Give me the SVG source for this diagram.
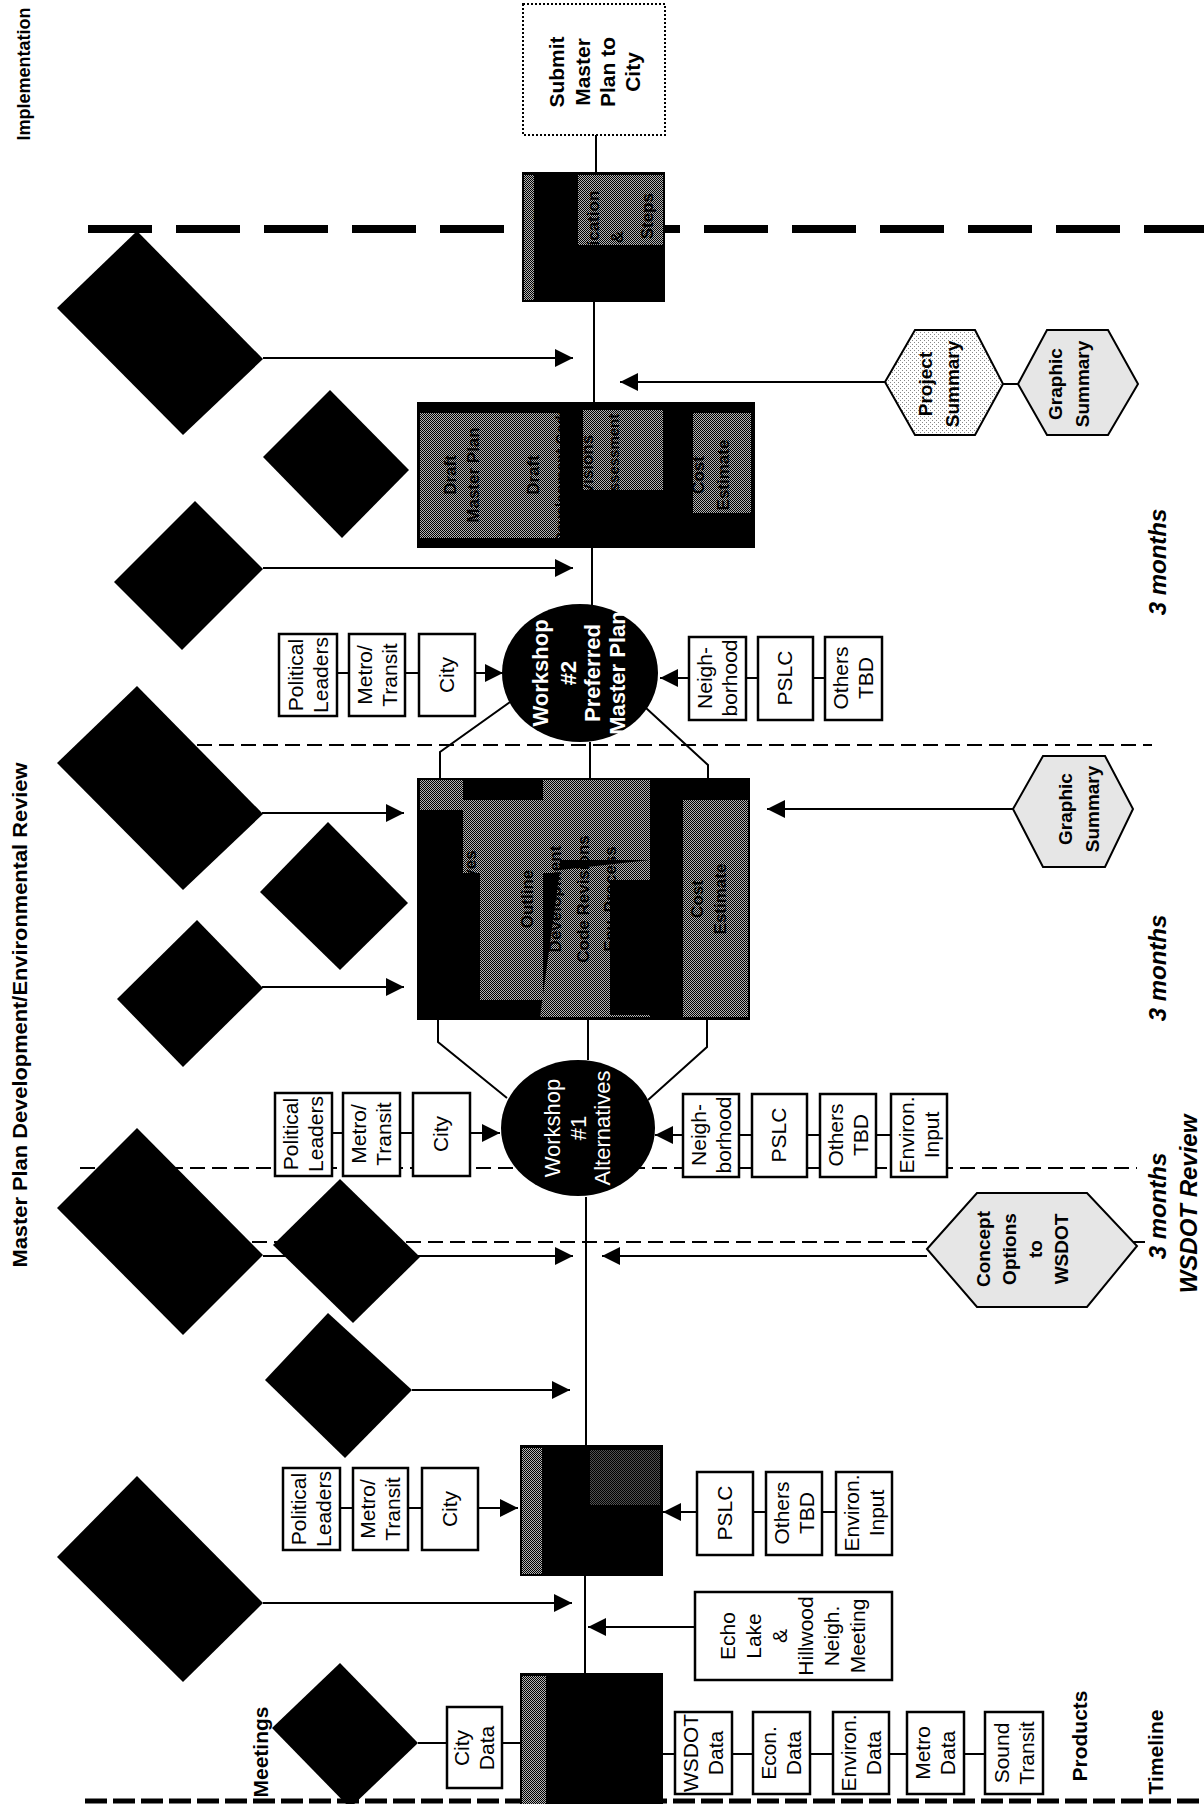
<svg xmlns="http://www.w3.org/2000/svg" width="1204" height="1804" viewBox="0 0 1204 1804">
<defs>
<pattern id="dith" width="2" height="2" patternUnits="userSpaceOnUse"><rect width="2" height="2" fill="#b4b4b4"/><rect width="1" height="1" fill="#000"/><rect x="1" y="1" width="1" height="1" fill="#000"/></pattern>
<pattern id="stip" width="4" height="4" patternUnits="userSpaceOnUse"><rect width="4" height="4" fill="#fff"/><rect width="1" height="1" fill="#888"/><rect x="2" y="2" width="1" height="1" fill="#888"/></pattern>
<marker id="ah" viewBox="0 0 18 18" refX="18" refY="9" markerWidth="18" markerHeight="18" markerUnits="userSpaceOnUse" orient="auto"><path d="M0,0 L18,9 L0,18 z" fill="#000"/></marker>
</defs>
<style>
.t{font-family:"Liberation Sans",Arial,sans-serif;font-size:21px;text-anchor:middle;fill:#000}
.b{font-weight:bold}
.h{font-family:"Liberation Sans",Arial,sans-serif;font-size:19px;font-weight:bold;text-anchor:middle;fill:#000}
.w{font-family:"Liberation Sans",Arial,sans-serif;font-size:22px;text-anchor:middle;fill:#fff}
.m{font-family:"Liberation Sans",Arial,sans-serif;font-size:24px;font-weight:bold;font-style:italic;text-anchor:middle;fill:#000}
.k{font-family:"Liberation Sans",Arial,sans-serif;font-size:17px;font-weight:bold;text-anchor:middle;fill:#000}
.ttl{font-family:"Liberation Sans",Arial,sans-serif;font-weight:bold;text-anchor:middle;fill:#000}
.box{fill:#fff;stroke:#000;stroke-width:2.5}
.ln{stroke:#000;stroke-width:2;fill:none}
.ar{stroke:#000;stroke-width:2;fill:none;marker-end:url(#ah)}
.dsh{stroke:#000;stroke-width:2;stroke-dasharray:15 7;fill:none}
.dia{fill:#000}
.hex{stroke:#000;stroke-width:2}
</style>
<rect width="1204" height="1804" fill="#fff"/>

<g id="phase-lines">
<line x1="88" y1="229" x2="1204" y2="229" stroke="#000" stroke-width="8" stroke-dasharray="64 24"/>
<line class="dsh" x1="197" y1="745" x2="1152" y2="745"/>
<line class="dsh" x1="80" y1="1168" x2="1137" y2="1168"/>
<line class="dsh" x1="230" y1="1242" x2="1145" y2="1242"/>
<line x1="85" y1="1801" x2="1204" y2="1801" stroke="#000" stroke-width="5" stroke-dasharray="22 6"/>
</g>

<g id="connectors">
<line class="ln" x1="596" y1="135" x2="596" y2="172"/>
<line class="ln" x1="594" y1="302" x2="594" y2="402"/>
<line class="ln" x1="592" y1="548" x2="592" y2="605"/>
<line class="ln" x1="590" y1="742" x2="590" y2="778"/>
<polyline class="ln" points="510,702 440,752 440,778"/>
<polyline class="ln" points="646,708 708,765 708,778"/>
<line class="ln" x1="588" y1="1020" x2="588" y2="1060"/>
<polyline class="ln" points="438,1020 438,1042 507,1098"/>
<polyline class="ln" points="707,1020 707,1047 648,1100"/>
<line class="ln" x1="586" y1="1197" x2="586" y2="1445"/>
<line class="ln" x1="585" y1="1576" x2="585" y2="1673"/>
<line class="ar" x1="263" y1="358" x2="573" y2="358"/>
<line class="ar" x1="263" y1="568" x2="573" y2="568"/>
<line class="ar" x1="262" y1="813" x2="404" y2="813"/>
<line class="ar" x1="262" y1="987" x2="404" y2="987"/>
<line class="ar" x1="263" y1="1256" x2="573" y2="1256"/>
<line class="ar" x1="412" y1="1390" x2="570" y2="1390"/>
<line class="ar" x1="263" y1="1603" x2="572" y2="1603"/>
<line class="ar" x1="885" y1="382" x2="620" y2="382"/>
<line class="ln" x1="1003" y1="384" x2="1018" y2="384"/>
<line class="ar" x1="1013" y1="809" x2="767" y2="809"/>
<line class="ar" x1="927" y1="1256" x2="602" y2="1256"/>
<line class="ar" x1="695" y1="1627" x2="588" y2="1627"/>
<line class="ln" x1="337" y1="673" x2="349" y2="673"/>
<line class="ln" x1="405" y1="673" x2="419" y2="673"/>
<line class="ar" x1="475" y1="673" x2="503" y2="673"/>
<line class="ln" x1="746" y1="678" x2="758" y2="678"/>
<line class="ln" x1="813" y1="678" x2="825" y2="678"/>
<line class="ar" x1="689" y1="678" x2="660" y2="678"/>
<line class="ln" x1="332" y1="1133" x2="343" y2="1133"/>
<line class="ln" x1="400" y1="1133" x2="413" y2="1133"/>
<line class="ar" x1="470" y1="1133" x2="500" y2="1133"/>
<line class="ln" x1="739" y1="1135" x2="752" y2="1135"/>
<line class="ln" x1="807" y1="1135" x2="820" y2="1135"/>
<line class="ln" x1="876" y1="1135" x2="891" y2="1135"/>
<line class="ar" x1="683" y1="1135" x2="655" y2="1135"/>
<line class="ln" x1="340" y1="1508" x2="353" y2="1508"/>
<line class="ln" x1="408" y1="1508" x2="422" y2="1508"/>
<line class="ar" x1="478" y1="1508" x2="518" y2="1508"/>
<line class="ln" x1="753" y1="1512" x2="766" y2="1512"/>
<line class="ln" x1="822" y1="1512" x2="836" y2="1512"/>
<line class="ar" x1="697" y1="1512" x2="663" y2="1512"/>
<line class="ln" x1="418" y1="1743" x2="447" y2="1743"/>
<line class="ln" x1="502" y1="1743" x2="520" y2="1743"/>
<line class="ln" x1="663" y1="1754" x2="675" y2="1754"/>
<line class="ln" x1="732" y1="1754" x2="753" y2="1754"/>
<line class="ln" x1="810" y1="1754" x2="833" y2="1754"/>
<line class="ln" x1="889" y1="1754" x2="907" y2="1754"/>
<line class="ln" x1="964" y1="1754" x2="985" y2="1754"/>
</g>

<g id="diamonds">
<polygon id="meet-a" class="dia" points="137,231 263,359 183,435 57,308"/>
<polygon id="meet-b" class="dia" points="330,390 409,470 342,538 263,457"/>
<polygon id="meet-c" class="dia" points="195,501 263,569 182,650 114,582"/>
<polygon id="meet-d" class="dia" points="137,686 263,814 183,890 57,763"/>
<polygon id="meet-e" class="dia" points="328,822 408,903 340,970 260,892"/>
<polygon id="meet-f" class="dia" points="197,920 263,988 183,1067 117,999"/>
<polygon id="meet-g" class="dia" points="137,1128 263,1255 183,1335 57,1208"/>
<polygon id="meet-h" class="dia" points="340,1179 420,1257 353,1323 273,1245"/>
<polygon id="meet-i" class="dia" points="328,1313 412,1390 345,1458 265,1380"/>
<polygon id="meet-j" class="dia" points="137,1476 263,1603 183,1682 57,1557"/>
<polygon id="meet-k" class="dia" points="340,1663 418,1743 350,1808 272,1728"/>
</g>

<g id="submit">
<rect x="523" y="4" width="142" height="131" fill="#fff" stroke="#000" stroke-width="2" stroke-dasharray="2 2"/>
<text class="t b" transform="translate(564,72) rotate(-90)">Submit</text>
<text class="t b" transform="translate(590,72) rotate(-90)">Master</text>
<text class="t b" transform="translate(615,72) rotate(-90)">Plan to</text>
<text class="t b" transform="translate(640,72) rotate(-90)">City</text>
</g>

<g id="task-final">
<rect x="522" y="172" width="143" height="130" fill="#000"/>
<rect x="578" y="175" width="85" height="70" fill="url(#dith)"/>
<rect x="524" y="175" width="10" height="125" fill="url(#dith)"/>
<text class="k" transform="translate(546,237) rotate(-90)">Prepare Final</text>
<text class="k" transform="translate(576,237) rotate(-90)">Master Plan</text>
<text class="k" transform="translate(599,237) rotate(-90)">Application</text>
<text class="k" transform="translate(623,237) rotate(-90)">&amp;</text>
<text class="k" transform="translate(653,237) rotate(-90)">Next Steps</text>
</g>

<g id="task-draft">
<rect x="417" y="402" width="338" height="146" fill="#000"/>
<rect x="420" y="413" width="140" height="125" fill="url(#dith)"/>
<rect x="583" y="410" width="80" height="80" fill="url(#dith)"/>
<rect x="693" y="413" width="58" height="100" fill="url(#dith)"/>
<text class="k" transform="translate(456,475) rotate(-90)">Draft</text>
<text class="k" transform="translate(479,475) rotate(-90)">Master Plan</text>
<text class="k" transform="translate(539,475) rotate(-90)">Draft</text>
<text class="k" style="font-size:15px" transform="translate(566,475) rotate(-90)">Development Code</text>
<text class="k" transform="translate(593,475) rotate(-90)">Revisions</text>
<text class="k" style="font-size:15px" transform="translate(619,475) rotate(-90)">Env. Assessment</text>
<text class="k" transform="translate(676,475) rotate(-90)">Finalize</text>
<text class="k" transform="translate(704,475) rotate(-90)">Cost</text>
<text class="k" transform="translate(729,475) rotate(-90)">Estimate</text>
</g>

<g id="task-mid">
<rect x="417" y="778" width="333" height="242" fill="#000"/>
<rect x="420" y="780" width="43" height="30" fill="url(#dith)"/>
<rect x="463" y="800" width="97" height="73" fill="url(#dith)"/>
<rect x="480" y="873" width="63" height="127" fill="url(#dith)"/>
<rect x="543" y="780" width="107" height="80" fill="url(#dith)"/>
<polygon points="560,870 650,860 650,1017 540,1017" fill="url(#dith)"/>
<rect x="683" y="800" width="65" height="217" fill="url(#dith)"/>
<rect x="610" y="880" width="55" height="135" fill="#000"/>
<text class="k" transform="translate(449,899) rotate(-90)">Refine</text>
<text class="k" transform="translate(476,899) rotate(-90)">Alternatives</text>
<text class="k" transform="translate(533,899) rotate(-90)">Outline</text>
<text class="k" transform="translate(561,899) rotate(-90)">Development</text>
<text class="k" transform="translate(589,899) rotate(-90)">Code Revisions</text>
<text class="k" transform="translate(616,899) rotate(-90)">Env. Process</text>
<text class="k" transform="translate(676,899) rotate(-90)">Refine</text>
<text class="k" transform="translate(703,899) rotate(-90)">Cost</text>
<text class="k" transform="translate(726,899) rotate(-90)">Estimate</text>
</g>

<g id="task-base">
<rect x="520" y="1445" width="143" height="131" fill="#000"/>
<rect x="522" y="1448" width="20" height="126" fill="url(#dith)"/>
<rect x="590" y="1450" width="70" height="55" fill="url(#dith)" opacity="0.45"/>
</g>

<g id="task-exist">
<rect x="520" y="1673" width="143" height="131" fill="#000"/>
<rect x="522" y="1676" width="24" height="128" fill="url(#dith)"/>
</g>

<g id="workshop2">
<ellipse cx="580" cy="673" rx="78" ry="69" fill="#000"/>
<text class="w b" transform="translate(548,673) rotate(-90)">Workshop</text>
<text class="w b" transform="translate(576,673) rotate(-90)">#2</text>
<text class="w b" transform="translate(600,673) rotate(-90)">Preferred</text>
<text class="w b" transform="translate(625,673) rotate(-90)">Master Plan</text>
</g>

<g id="workshop1">
<ellipse cx="578" cy="1128" rx="77" ry="68" fill="#000"/>
<text class="w" transform="translate(560,1128) rotate(-90)">Workshop</text>
<text class="w" transform="translate(586,1128) rotate(-90)">#1</text>
<text class="w" transform="translate(610,1128) rotate(-90)">Alternatives</text>
</g>

<g id="w2-stakeholders">
<rect class="box" x="279" y="634" width="58" height="82"/>
<text class="t" transform="translate(303,675) rotate(-90)">Political</text>
<text class="t" transform="translate(328,675) rotate(-90)">Leaders</text>
<rect class="box" x="349" y="634" width="56" height="82"/>
<text class="t" transform="translate(372,675) rotate(-90)">Metro/</text>
<text class="t" transform="translate(397,675) rotate(-90)">Transit</text>
<rect class="box" x="419" y="634" width="56" height="82"/>
<text class="t" transform="translate(454,675) rotate(-90)">City</text>
<rect class="box" x="689" y="637" width="57" height="83"/>
<text class="t" transform="translate(712,678) rotate(-90)">Neigh-</text>
<text class="t" transform="translate(737,678) rotate(-90)">borhood</text>
<rect class="box" x="758" y="637" width="55" height="83"/>
<text class="t" transform="translate(792,678) rotate(-90)">PSLC</text>
<rect class="box" x="825" y="637" width="57" height="83"/>
<text class="t" transform="translate(848,678) rotate(-90)">Others</text>
<text class="t" transform="translate(873,678) rotate(-90)">TBD</text>
</g>

<g id="w1-stakeholders">
<rect class="box" x="275" y="1093" width="57" height="83"/>
<text class="t" transform="translate(298,1134) rotate(-90)">Political</text>
<text class="t" transform="translate(323,1134) rotate(-90)">Leaders</text>
<rect class="box" x="343" y="1093" width="57" height="83"/>
<text class="t" transform="translate(366,1134) rotate(-90)">Metro/</text>
<text class="t" transform="translate(391,1134) rotate(-90)">Transit</text>
<rect class="box" x="413" y="1093" width="57" height="83"/>
<text class="t" transform="translate(448,1134) rotate(-90)">City</text>
<rect class="box" x="683" y="1094" width="56" height="83"/>
<text class="t" transform="translate(706,1135) rotate(-90)">Neigh-</text>
<text class="t" transform="translate(731,1135) rotate(-90)">borhood</text>
<rect class="box" x="752" y="1094" width="55" height="83"/>
<text class="t" transform="translate(786,1135) rotate(-90)">PSLC</text>
<rect class="box" x="820" y="1094" width="56" height="83"/>
<text class="t" transform="translate(843,1135) rotate(-90)">Others</text>
<text class="t" transform="translate(868,1135) rotate(-90)">TBD</text>
<rect class="box" x="891" y="1094" width="56" height="83"/>
<text class="t" transform="translate(914,1135) rotate(-90)">Environ.</text>
<text class="t" transform="translate(939,1135) rotate(-90)">Input</text>
</g>

<g id="base-stakeholders">
<rect class="box" x="283" y="1468" width="57" height="82"/>
<text class="t" transform="translate(306,1509) rotate(-90)">Political</text>
<text class="t" transform="translate(331,1509) rotate(-90)">Leaders</text>
<rect class="box" x="353" y="1468" width="55" height="82"/>
<text class="t" transform="translate(375,1509) rotate(-90)">Metro/</text>
<text class="t" transform="translate(400,1509) rotate(-90)">Transit</text>
<rect class="box" x="422" y="1468" width="56" height="82"/>
<text class="t" transform="translate(457,1509) rotate(-90)">City</text>
<rect class="box" x="697" y="1472" width="56" height="83"/>
<text class="t" transform="translate(732,1513) rotate(-90)">PSLC</text>
<rect class="box" x="766" y="1472" width="56" height="83"/>
<text class="t" transform="translate(789,1513) rotate(-90)">Others</text>
<text class="t" transform="translate(814,1513) rotate(-90)">TBD</text>
<rect class="box" x="836" y="1472" width="56" height="83"/>
<text class="t" transform="translate(859,1513) rotate(-90)">Environ.</text>
<text class="t" transform="translate(884,1513) rotate(-90)">Input</text>
</g>

<g id="echo-lake">
<rect class="box" x="695" y="1592" width="197" height="88"/>
<text class="t" transform="translate(735,1636) rotate(-90)">Echo</text>
<text class="t" transform="translate(761,1636) rotate(-90)">Lake</text>
<text class="t" transform="translate(787,1636) rotate(-90)">&amp;</text>
<text class="t" transform="translate(813,1636) rotate(-90)">Hillwood</text>
<text class="t" transform="translate(839,1636) rotate(-90)">Neigh.</text>
<text class="t" transform="translate(865,1636) rotate(-90)">Meeting</text>
</g>

<g id="data-boxes">
<rect class="box" x="447" y="1707" width="55" height="81"/>
<text class="t" transform="translate(469,1748) rotate(-90)">City</text>
<text class="t" transform="translate(494,1748) rotate(-90)">Data</text>
<rect class="box" x="675" y="1712" width="57" height="82"/>
<text class="t" transform="translate(698,1753) rotate(-90)">WSDOT</text>
<text class="t" transform="translate(723,1753) rotate(-90)">Data</text>
<rect class="box" x="753" y="1712" width="57" height="82"/>
<text class="t" transform="translate(776,1753) rotate(-90)">Econ.</text>
<text class="t" transform="translate(801,1753) rotate(-90)">Data</text>
<rect class="box" x="833" y="1712" width="56" height="82"/>
<text class="t" transform="translate(856,1753) rotate(-90)">Environ.</text>
<text class="t" transform="translate(881,1753) rotate(-90)">Data</text>
<rect class="box" x="907" y="1712" width="57" height="82"/>
<text class="t" transform="translate(930,1753) rotate(-90)">Metro</text>
<text class="t" transform="translate(955,1753) rotate(-90)">Data</text>
<rect class="box" x="985" y="1712" width="58" height="82"/>
<text class="t" transform="translate(1009,1753) rotate(-90)">Sound</text>
<text class="t" transform="translate(1034,1753) rotate(-90)">Transit</text>
</g>

<g id="products">
<polygon class="hex" fill="url(#stip)" points="885,382 915,330 975,330 1003,384 975,435 915,435"/>
<text class="h" transform="translate(932,384) rotate(-90)">Project</text>
<text class="h" transform="translate(959,384) rotate(-90)">Summary</text>
<polygon class="hex" fill="#e6e6e6" points="1018,384 1047,330 1108,330 1138,384 1108,435 1047,435"/>
<text class="h" transform="translate(1062,384) rotate(-90)">Graphic</text>
<text class="h" transform="translate(1089,384) rotate(-90)">Summary</text>
<polygon class="hex" fill="#e6e6e6" points="1013,809 1043,756 1105,756 1133,809 1105,867 1043,867"/>
<text class="h" transform="translate(1072,809) rotate(-90)">Graphic</text>
<text class="h" transform="translate(1099,809) rotate(-90)">Summary</text>
<polygon class="hex" fill="#e6e6e6" points="927,1249 977,1193 1087,1193 1137,1246 1087,1307 977,1307"/>
<text class="h" transform="translate(990,1249) rotate(-90)">Concept</text>
<text class="h" transform="translate(1016,1249) rotate(-90)">Options</text>
<text class="h" transform="translate(1042,1249) rotate(-90)">to</text>
<text class="h" transform="translate(1068,1249) rotate(-90)">WSDOT</text>
</g>

<g id="labels">
<text class="ttl" style="font-size:18px" transform="translate(30,74) rotate(-90)">Implementation</text>
<text class="ttl" style="font-size:20px" textLength="505" lengthAdjust="spacingAndGlyphs" transform="translate(27,1015) rotate(-90)">Master Plan Development/Environmental Review</text>
<text class="t b" transform="translate(268,1752) rotate(-90)">Meetings</text>
<text class="t b" transform="translate(1087,1736) rotate(-90)">Products</text>
<text class="t b" transform="translate(1163,1752) rotate(-90)">Timeline</text>
<text class="m" transform="translate(1166,562) rotate(-90)">3 months</text>
<text class="m" transform="translate(1166,968) rotate(-90)">3 months</text>
<text class="m" transform="translate(1166,1206) rotate(-90)">3 months</text>
<text class="m" transform="translate(1197,1204) rotate(-90)">WSDOT Review</text>
</g>
</svg>
